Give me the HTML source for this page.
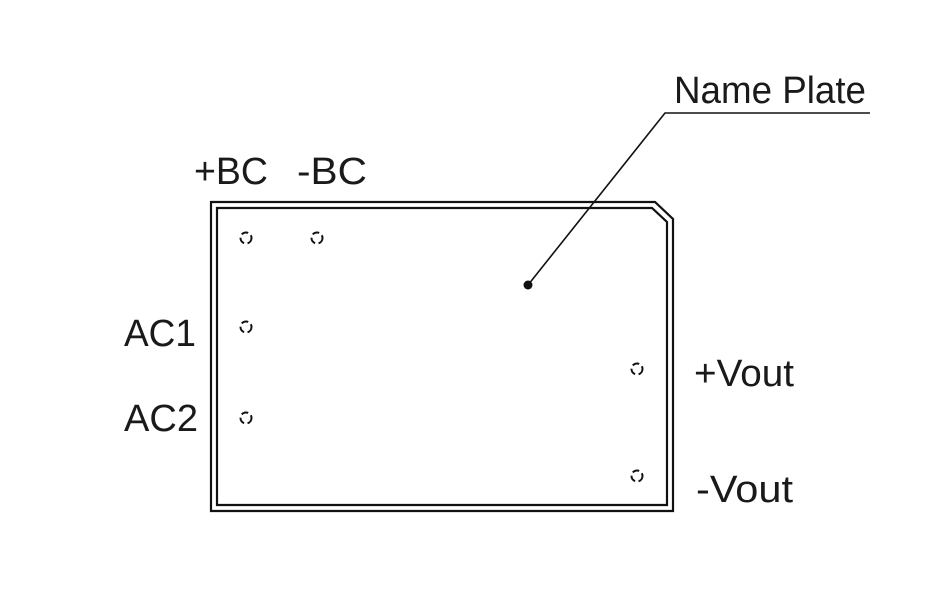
<!DOCTYPE html>
<html><head><style>body{margin:0;background:#fff}svg{display:block}</style></head>
<body>
<svg width="947" height="596" viewBox="0 0 947 596" xmlns="http://www.w3.org/2000/svg">
<g fill="none" stroke="#111" stroke-width="2.2">
<path d="M211 202 H655 L673 219 V511 H211 Z"/>
<path d="M217 208 H652 L667 222 V505 H217 Z"/>
<g stroke-width="2" stroke-dasharray="7 3.5">
<circle cx="246" cy="238" r="5.5"/>
<circle cx="317" cy="238" r="5.5"/>
<circle cx="246" cy="327" r="5.5"/>
<circle cx="246" cy="418" r="5.5"/>
<circle cx="637" cy="369" r="5.5"/>
<circle cx="637" cy="476" r="5.5"/>
</g>
<path d="M528 285 L665 113 H870" stroke-width="1.6"/>
</g>
<circle cx="528" cy="285" r="4.5" fill="#111"/>
<g font-family="Liberation Sans, sans-serif" font-size="38" fill="#1a1a1a">
<text x="674" y="103" textLength="192" lengthAdjust="spacingAndGlyphs">Name Plate</text>
<text x="194" y="184" textLength="74" lengthAdjust="spacingAndGlyphs">+BC</text>
<text x="297" y="184" textLength="70" lengthAdjust="spacingAndGlyphs">-BC</text>
<text x="124" y="346" textLength="72" lengthAdjust="spacingAndGlyphs">AC1</text>
<text x="124" y="431" textLength="74" lengthAdjust="spacingAndGlyphs">AC2</text>
<text x="694" y="386" textLength="100" lengthAdjust="spacingAndGlyphs">+Vout</text>
<text x="696" y="502" textLength="97" lengthAdjust="spacingAndGlyphs">-Vout</text>
</g>
</svg>
</body></html>
